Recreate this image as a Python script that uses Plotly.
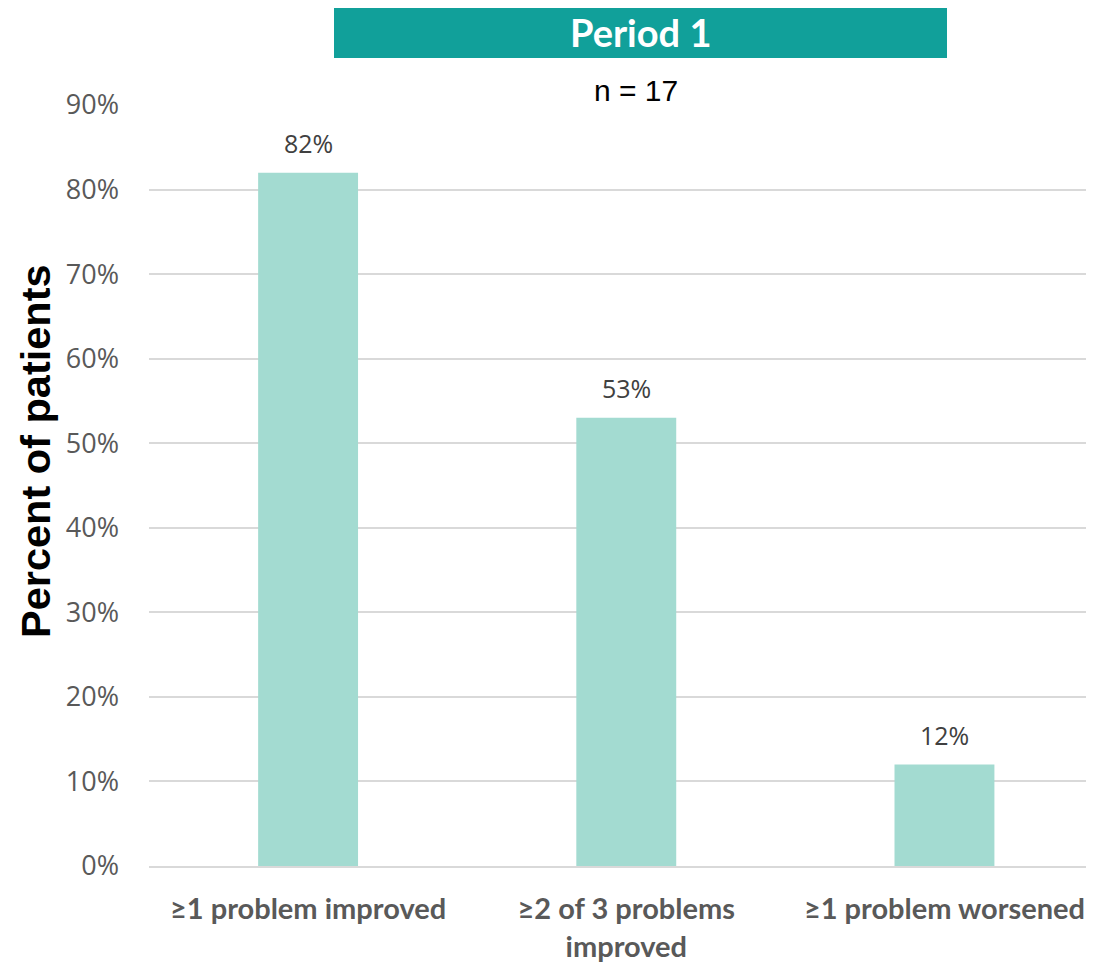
import plotly.graph_objects as go

categories = ["≥1 problem improved", "≥2 of 3 problems<br>improved", "≥1 problem worsened"]
percent = [82, 53, 12]
labels = ["82%", "53%", "12%"]
tick_vals = [0, 10, 20, 30, 40, 50, 60, 70, 80, 90]
tick_text = ["0%", "10%", "20%", "30%", "40%", "50%", "60%", "70%", "80%", "90%"]

# page body has an 8px margin, so the figure is shrunk by 8px
L, T, PW, PH = 149, 105, 945, 761


def px_x(X):
    return (X - L) / PW


def px_y(Y):
    return (T + PH - Y) / PH


fig = go.Figure()
fig.add_trace(go.Bar(
    x=[0, 1, 2],
    y=percent,
    width=0.314,
    marker=dict(color="#a3dbd1", line=dict(width=0)),
))

annotations = [
    dict(x=i, y=v, text=t, xref="x", yref="y", showarrow=False,
         yanchor="middle", yshift=30,
         font=dict(family="Open Sans", size=25, color="#404040"))
    for i, (v, t) in enumerate(zip(percent, labels))
]
annotations += [
    dict(text="<b>Period 1</b>", xref="paper", yref="paper",
         x=px_x(640), y=px_y(32), yanchor="middle", showarrow=False,
         font=dict(family="Lato", size=38, color="white")),
    dict(text="n = 17", xref="paper", yref="paper",
         x=px_x(636), y=px_y(90), yanchor="middle", showarrow=False,
         font=dict(family="Liberation Sans", size=30, color="black")),
    dict(text="<b>Percent of patients</b>", xref="paper", yref="paper",
         x=px_x(35), y=px_y(451), xanchor="center", yanchor="middle",
         textangle=-90, showarrow=False,
         font=dict(family="Liberation Sans", size=41.5, color="black")),
]

fig.update_layout(
    width=1086, height=954,
    plot_bgcolor="white", paper_bgcolor="white",
    margin=dict(l=141, r=0, t=97, b=96),
    showlegend=False,
    xaxis=dict(
        range=[-0.5, 2.47],
        tickvals=[0, 1, 2],
        ticktext=[f"<b>{c}</b>" for c in categories],
        tickfont=dict(family="Lato", size=29, color="#595959"),
        showgrid=False, zeroline=False,
        showline=True, linecolor="#d9d9d9", linewidth=2,
        ticks="", ticklabelstandoff=16,
    ),
    yaxis=dict(
        range=[0, 90],
        tickvals=tick_vals,
        ticktext=tick_text,
        tickfont=dict(family="Open Sans", size=27, color="#595959"),
        showgrid=True, gridcolor="#d9d9d9", gridwidth=2,
        zeroline=False, ticks="", ticklabelstandoff=29,
    ),
    shapes=[dict(type="rect", xref="paper", yref="paper",
                 x0=px_x(334), x1=px_x(947), y0=px_y(58), y1=px_y(5),
                 fillcolor="#11a09a", line=dict(width=0))],
    annotations=annotations,
)

fig.write_html("out.html")
